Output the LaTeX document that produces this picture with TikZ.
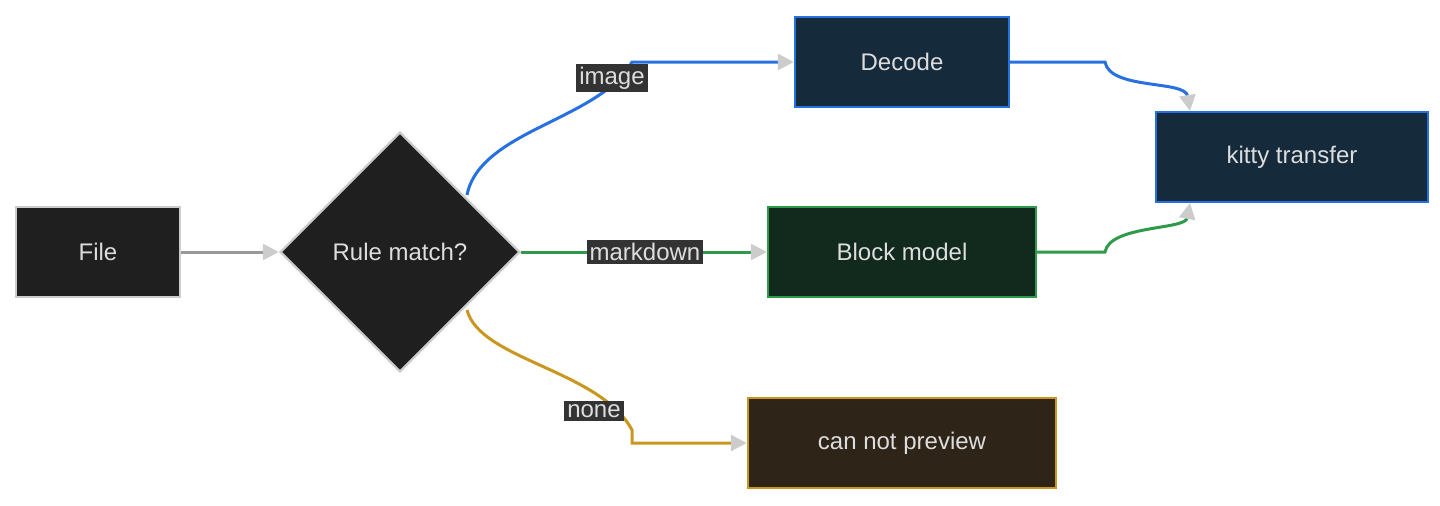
\documentclass[tikz,border=0pt]{standalone}
\usepackage{fontspec}
\setmainfont{Liberation Sans}
\usetikzlibrary{shapes.geometric,arrows.meta}
\definecolor{boxgray}{HTML}{1F1F1F}
\definecolor{rimgray}{HTML}{CCCCCC}
\definecolor{boxblue}{HTML}{152A3B}
\definecolor{rimblue}{HTML}{2670E0}
\definecolor{boxgreen}{HTML}{122A1D}
\definecolor{rimgreen}{HTML}{2E9A4A}
\definecolor{boxbrown}{HTML}{2E2418}
\definecolor{rimbrown}{HTML}{C9961F}
\definecolor{lblbg}{HTML}{333333}
\definecolor{txt}{HTML}{DDDDDD}
\tikzset{
  box/.style={draw, line width=1.2pt, text=txt, font=\fontsize{12}{14}\selectfont,
    minimum height=45pt, inner sep=0pt},
  lbl/.style={fill=lblbg, text=txt, font=\fontsize{12}{14}\selectfont, inner sep=1.5pt},
  flow/.style={line width=1.5pt, -{Triangle[length=8pt,width=8pt,fill=rimgray,color=rimgray]}},
}
\begin{document}
\begin{tikzpicture}[x=0.5pt,y=-0.5pt]
  \useasboundingbox (0,0) rectangle (1440,505);
  % nodes
  \node[box, fill=boxgray, draw=rimgray, minimum width=82pt] (file) at (98,252) {File};
  \node[box, diamond, aspect=1, fill=boxgray, draw=rimgray, minimum width=120pt, minimum height=120pt] (rule) at (400,252) {Rule match?};
  \node[box, fill=boxblue, draw=rimblue, minimum width=107pt] (decode) at (902,62) {Decode};
  \node[box, fill=boxblue, draw=rimblue, minimum width=136pt] (kitty) at (1292,157) {kitty transfer};
  \node[box, fill=boxgreen, draw=rimgreen, minimum width=134pt] (block) at (902,252) {Block model};
  \node[box, fill=boxbrown, draw=rimbrown, minimum width=154pt] (none) at (902,443) {can not preview};
  \coordinate (bendimg) at (632,62);
  \coordinate (bendnone) at (632,430);
  \coordinate (bendd) at (1105,62);
  \coordinate (bendb) at (1105,252);
  % connectors
  \draw[flow, color=gray!80] (file) -- (rule);
  \draw[flow, color=rimblue] (467,195) .. controls (480,130) and (600,120) .. (bendimg) -- (decode);
  \draw[flow, color=rimgreen] (rule) -- (block);
  \draw[flow, color=rimbrown] (467,310) .. controls (480,360) and (600,370) .. (bendnone) -- (632,443) -- (none);
  \draw[flow, color=rimblue] (decode) -- (bendd) .. controls (1110,90) and (1185,80) .. (1190,111);
  \draw[flow, color=rimgreen] (block) -- (bendb) .. controls (1110,225) and (1185,230) .. (1190,203);
  % labels
  \node[lbl] (limg) at (612,78) {image};
  \node[lbl] (lmd) at (645,252) {markdown};
  \node[lbl] (lnone) at (594,411) {none};
\end{tikzpicture}
\end{document}
